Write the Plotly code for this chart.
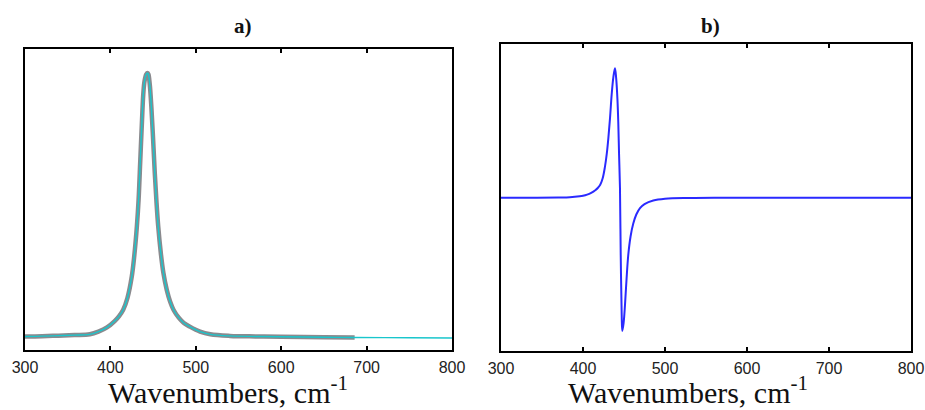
import plotly.graph_objects as go

# ---- data ----
# panel a) normalized band (baseline 0, peak 1)
wn_a = [300, 320, 339, 358, 376, 386, 396, 405, 410, 415, 420, 425, 428, 431, 433, 435, 437,
        438.5, 440, 442, 443.5, 444.5, 446, 448, 450, 452, 454, 456, 459, 462, 466,
        470, 474, 480, 486, 493, 505, 517, 540, 570, 600, 650, 686, 750, 800]
int_a = [0.004, 0.005, 0.007, 0.009, 0.012, 0.022, 0.038, 0.062, 0.08, 0.105, 0.15, 0.23,
         0.31, 0.42, 0.52, 0.67, 0.82, 0.92, 0.97, 0.995, 1.0, 0.995, 0.96, 0.87, 0.75,
         0.62, 0.51, 0.42, 0.32, 0.245, 0.18, 0.135, 0.104, 0.075, 0.055, 0.041, 0.022,
         0.012, 0.006, 0.004, 0.003, 0.001, 0.0, -0.001, -0.002]
grey_end_a = 686
grey_gap_a = (339, 358)

# panel b) derivative-like band
wn_b = [300, 340, 370, 384, 396, 400, 405, 410, 415, 418, 421, 424, 426.8, 429, 430.9, 433,
        435, 437, 439, 440.5, 442, 443, 444, 445.1, 446, 447.2, 447.9, 449.5, 451.2, 453,
        455.2, 458, 461.3, 465, 469.5, 475, 485.7, 500, 530, 560, 800]
int_b = [0.0, 0.0, 0.002, 0.004, 0.011, 0.015, 0.024, 0.038, 0.058, 0.075, 0.1, 0.15, 0.24,
         0.34, 0.459, 0.62, 0.8, 0.93, 1.0, 0.92, 0.76, 0.587, 0.33, 0.073, -0.443, -0.906,
         -1.03, -0.97, -0.83, -0.64, -0.443, -0.3, -0.2, -0.13, -0.08, -0.05, -0.022,
         -0.008, -0.002, 0.0, 0.0]

x_ticks = [300, 400, 500, 600, 700, 800]
panel_titles = ["a)", "b)"]
axis_title = "Wavenumbers, cm<sup>-1</sup>"

# ---- layout helpers (pixel positions in the 925x410 frame) ----
W, H = 925, 410


def px_x(x):
    return x / W


def px_y(y):
    return 1 - y / H


grey_y = [None if (grey_gap_a[0] < w < grey_gap_a[1]) else v
          for w, v in zip(wn_a, int_a)]
grey_x = [w for w in wn_a if w <= grey_end_a]
grey_y = grey_y[:len(grey_x)]

fig = go.Figure()
fig.add_trace(go.Scatter(x=grey_x, y=grey_y, mode="lines", connectgaps=False, line_shape="spline",
                         line=dict(color="#8a8a8e", width=4.5), showlegend=False,
                         xaxis="x", yaxis="y"))
fig.add_trace(go.Scatter(x=wn_a, y=int_a, mode="lines", line_shape="spline",
                         line=dict(color="#19c6cc", width=1.4), showlegend=False,
                         xaxis="x", yaxis="y"))
fig.add_trace(go.Scatter(x=wn_b, y=int_b, mode="lines", line_shape="spline",
                         line=dict(color="#2a2aff", width=2), showlegend=False,
                         xaxis="x2", yaxis="y2"))

tickfont = dict(family="Liberation Sans, Arial", size=16, color="#222")
common_x = dict(range=[300, 800], tickvals=x_ticks, ticks="inside", ticklen=4,
                tickwidth=1.5, tickcolor="black", showline=True, linecolor="black",
                linewidth=1.5, mirror="ticks", showgrid=False, zeroline=False,
                tickfont=tickfont, ticklabelstandoff=2, automargin=False,
                ticklabeloverflow="allow")
common_y = dict(showline=True, linecolor="black", linewidth=1.5, mirror=True,
                showgrid=False, zeroline=False, showticklabels=False, ticks="",
                automargin=False)

fig.update_layout(
    width=W, height=H, autosize=False,
    margin=dict(l=0, r=0, t=0, b=0, pad=0, autoexpand=False),
    paper_bgcolor="white", plot_bgcolor="white",
    xaxis=dict(domain=[px_x(25), px_x(452)], anchor="y", **common_x),
    yaxis=dict(domain=[px_y(350), px_y(49)], range=[-0.0473, 1.0907], anchor="x", **common_y),
    xaxis2=dict(domain=[px_x(501), px_x(911)], anchor="y2", **common_x),
    yaxis2=dict(domain=[px_y(351), px_y(44)], range=[-1.185, 1.188], anchor="x2", **common_y),
)

serif = "Liberation Serif, Times New Roman, serif"
for xc, t in zip([243, 710], panel_titles):
    fig.add_annotation(x=px_x(xc), y=px_y(26), xref="paper", yref="paper", text="<b>" + t + "</b>",
                       showarrow=False, font=dict(family=serif, size=21, color="#111"),
                       xanchor="center", yanchor="middle")
for xc in [228, 688]:
    fig.add_annotation(x=px_x(xc), y=px_y(390), xref="paper", yref="paper", text=axis_title,
                       showarrow=False, font=dict(family=serif, size=30, color="#111"),
                       xanchor="center", yanchor="middle")

fig.write_html("out.html", config={"displayModeBar": False},
               post_script="document.body.style.margin='0';document.body.style.overflow='hidden';")
